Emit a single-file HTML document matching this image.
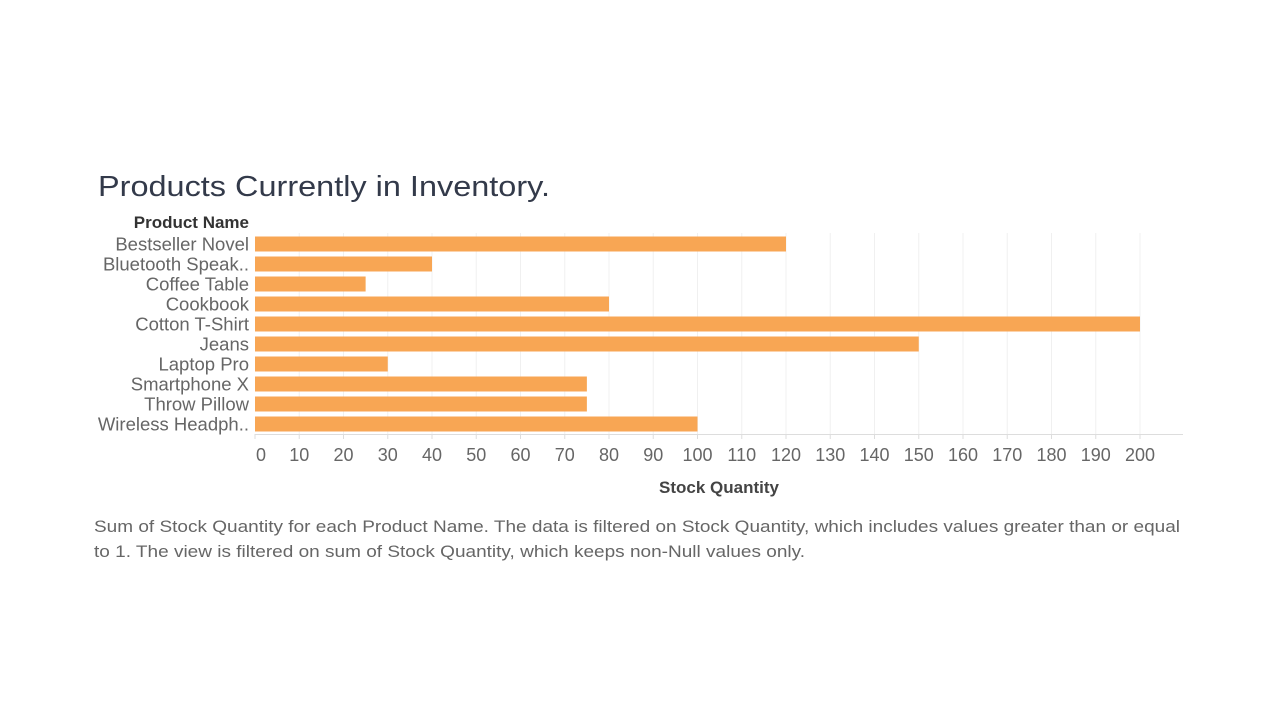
<!DOCTYPE html>
<html><head><meta charset="utf-8"><style>
body{margin:0;background:#fff;width:1280px;height:720px;overflow:hidden;font-family:"Liberation Sans",sans-serif;}
</style></head><body>
<svg width="1280" height="720" xmlns="http://www.w3.org/2000/svg">
<text x="98" y="196" font-size="29" fill="#333a4a" textLength="452" lengthAdjust="spacingAndGlyphs">Products Currently in Inventory.</text>
<text x="249" y="228" font-size="17" font-weight="bold" fill="#333" text-anchor="end">Product Name</text>
<g id="grid"></g><g id="bars"></g><g id="ticks"></g>
<line x1="255" y1="434.5" x2="1183" y2="434.5" stroke="#ddd"/>
<text x="719" y="493" font-size="17" font-weight="bold" fill="#444" text-anchor="middle">Stock Quantity</text>
<text x="94" y="532" font-size="17" fill="#666" textLength="1086" lengthAdjust="spacingAndGlyphs">Sum of Stock Quantity for each Product Name. The data is filtered on Stock Quantity, which includes values greater than or equal</text>
<text x="94" y="557" font-size="17" fill="#666" textLength="711" lengthAdjust="spacingAndGlyphs">to 1. The view is filtered on sum of Stock Quantity, which keeps non-Null values only.</text>
</svg>
<script>
const categories=["Bestseller Novel","Bluetooth Speak..","Coffee Table","Cookbook","Cotton T-Shirt","Jeans","Laptop Pro","Smartphone X","Throw Pillow","Wireless Headph.."];
const values=[120,40,25,80,200,150,30,75,75,100];
const ticks=[0,10,20,30,40,50,60,70,80,90,100,110,120,130,140,150,160,170,180,190,200];
const NS="http://www.w3.org/2000/svg";
const x=v=>255+v*4.425;
const y=i=>236.5+i*20;
function mk(t,a,p){const e=document.createElementNS(NS,t);for(const k in a)e.setAttribute(k,a[k]);p.appendChild(e);return e;}
const G=document.getElementById('grid'),B=document.getElementById('bars'),T=document.getElementById('ticks');
ticks.forEach(t=>{
 if(t>0){const l=mk('line',{x1:x(t),x2:x(t),y1:233,y2:434,stroke:'#f0f0f0'},G);
 
 }
 const tk=mk('line',{x1:x(t),x2:x(t),y1:434,y2:439,stroke:'#ddd'},T);
 
 
 const tx=mk('text',{x:x(t)+(t===0?6:0),y:461,'font-size':18,fill:'#666','text-anchor':'middle'},T);
 tx.textContent=t;
 
 
});
categories.forEach((c,i)=>{
 const r=mk('rect',{x:x(0),y:y(i),width:x(values[i])-x(0),height:15,fill:'#f8a654'},B);
 
 
 const l=mk('text',{x:249,y:y(i)+14,'font-size':18.5,fill:'#666','text-anchor':'end'},B);
 l.textContent=c;
 
 
});
</script>
</body></html>
